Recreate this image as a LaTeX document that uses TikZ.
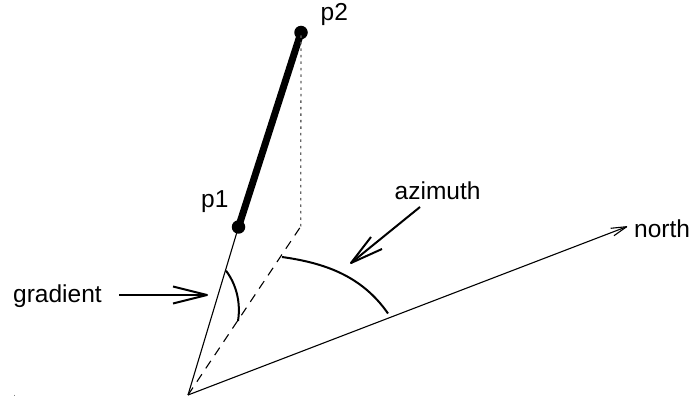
\documentclass[tikz,border=0pt]{standalone}
\usepackage{fontspec}
\setmainfont{Liberation Sans}
\begin{document}
\begin{tikzpicture}[x=1pt,y=-1pt,line join=round,
  lbl/.style={inner sep=0pt,font=\fontsize{24.5}{27}\selectfont,text=black,anchor=base west},
  dotnode/.style={ellipse,fill=black,draw=none,minimum width=14pt,minimum height=12.5pt,inner sep=0pt},
  thin line/.style={line width=1.1pt},
  medium/.style={line width=2pt},
  seg/.style={line width=7pt},
  dashline/.style={line width=1.1pt,dash pattern=on 9pt off 7pt},
  dotline/.style={line width=1.3pt,black!60,dash pattern=on 2.5pt off 4pt}]
\useasboundingbox (0,0) rectangle (691,398);
\coordinate (o) at (188,395);
\coordinate (corner) at (300.7,226.5);
\coordinate (tip) at (626.7,226.7);
\node[circle,fill=black,draw=none,minimum size=13.5pt,inner sep=0pt] (p1) at (238.5,227) {};
\node[circle,fill=black,draw=none,minimum size=13.5pt,inner sep=0pt] (p2) at (301,32.5) {};
\node[lbl] (lp1) at (201,208) {p1};
\node[lbl] (lp2) at (320.5,21) {p2};
\node[lbl] (lgrad) at (13,302) {gradient};
\node[lbl] (laz) at (394.5,200) {azimuth};
\node[lbl] (lnorth) at (634,238) {north};
\draw[seg] (p1.center) -- (p2.center);
\draw[thin line] (o) -- (p1.center);
\draw[thin line] (o) -- (tip);
\draw[thin line] (610.7,228.3) -- (tip) -- (614,235.7);
\draw[dashline] (o) -- (corner);
\draw[dotline] (corner) -- (p2.center);
% angle arcs
\coordinate (g1) at (226,270.7);
\coordinate (g2) at (238,321);
\coordinate (a1) at (282,257);
\coordinate (a2) at (388,313.5);
\draw[medium] (g1) .. controls (236,284) and (241,302) .. (g2);
\draw[medium] (a1) .. controls (325,263) and (362,276) .. (a2);
% label arrows
\coordinate (gs) at (119,295);
\coordinate (gt) at (207,295);
\coordinate (as) at (420,207);
\coordinate (at1) at (351,263);
\draw[medium] (gs) -- (gt);
\draw[medium] (173,286.5) -- (gt) -- (173,303.5);
\draw[medium] (as) -- (at1);
\draw[medium] (371,237) -- (at1) -- (382,249);
% stray mark
\coordinate (m1) at (14,394.5);
\coordinate (m2) at (14,396);
\draw[line width=.8pt,gray] (m1) -- (m2);
\end{tikzpicture}
\end{document}
